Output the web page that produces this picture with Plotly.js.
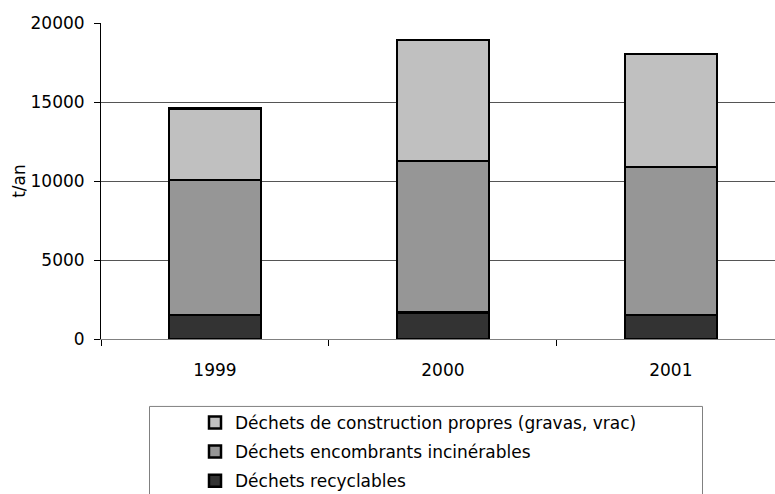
<!DOCTYPE html>
<html>
<head>
<meta charset="utf-8">
<script src="https://cdn.plot.ly/plotly-3.0.1.min.js"></script>
<style>html,body{margin:0;padding:0;background:#fff;}#chart{width:775px;height:494px;}</style>
</head>
<body>
<div id="chart"></div>
<script>
const years = ["1999", "2000", "2001"];
const recyclables = [1520, 1690, 1520];
const encombrants = [8540, 9580, 9380];
const construction = [4540, 7650, 7140];
const seriesNames = [
  "Déchets recyclables",
  "Déchets encombrants incinérables",
  "Déchets de construction propres (gravas, vrac)"
];
const legendRanks = [3, 2, 1];
const yTicks = [0, 5000, 10000, 15000, 20000];

const FONT = "DejaVu Sans, Verdana, sans-serif";
const fills = ["#333333", "#969696", "#C0C0C0"];
const series = [recyclables, encombrants, construction];

const traces = series.map((vals, i) => ({
  type: "bar",
  x: years,
  y: vals,
  name: seriesNames[i],
  legendgroup: "g" + i,
  legendrank: legendRanks[i],
  width: 0.404,
  marker: { color: fills[i], line: { color: "#000000", width: 2.5 } },
  hoverinfo: "y+name"
}));

const L = 101, R = 0, T = 22.7, B = 155;
const W = 775, H = 494;
const pw = W - L - R, ph = H - T - B;
const px = v => (v - L) / pw;
const py = v => (H - B - v) / ph;

const layout = {
  width: W, height: H,
  margin: { l: L, r: R, t: T, b: B, pad: 0, autoexpand: false },
  paper_bgcolor: "#ffffff",
  plot_bgcolor: "#ffffff",
  barmode: "stack",
  showlegend: true,
  font: { family: FONT, size: 17, color: "#000000" },
  xaxis: {
    type: "category",
    range: [-0.5, 2.457],
    showline: true, linecolor: "#808080", linewidth: 1,
    ticks: "outside", tickson: "boundaries", ticklen: 6, tickcolor: "#000000",
    showgrid: false, zeroline: false,
    ticklabelstandoff: 16,
    tickfont: { family: FONT, size: 17, color: "#000000" }
  },
  yaxis: {
    range: [0, 20000],
    tickvals: yTicks,
    ticktext: yTicks.map(String),
    showline: true, linecolor: "#000000", linewidth: 1,
    ticks: "outside", ticklen: 6, tickcolor: "#000000",
    showgrid: true, gridcolor: "#555555", gridwidth: 1,
    zeroline: false,
    ticklabelstandoff: 6,
    tickfont: { family: FONT, size: 17, color: "#000000" },
    title: { text: "t/an", font: { family: FONT, size: 17, color: "#000000" }, standoff: 0 }
  },
  legend: {
    x: px(195), xanchor: "left",
    y: py(405), yanchor: "top",
    traceorder: "grouped",
    tracegroupgap: 4,
    bgcolor: "rgba(0,0,0,0)",
    borderwidth: 0,
    font: { family: FONT, size: 17, color: "#000000" }
  },
  shapes: [{
    type: "rect", xref: "paper", yref: "paper",
    x0: px(149.5), x1: px(702.5), y0: py(406.5), y1: py(520),
    line: { color: "#808080", width: 1 }, fillcolor: "rgba(0,0,0,0)", layer: "below"
  }]
};

Plotly.newPlot("chart", traces, layout, { staticPlot: true, displayModeBar: false });
</script>
</body>
</html>
